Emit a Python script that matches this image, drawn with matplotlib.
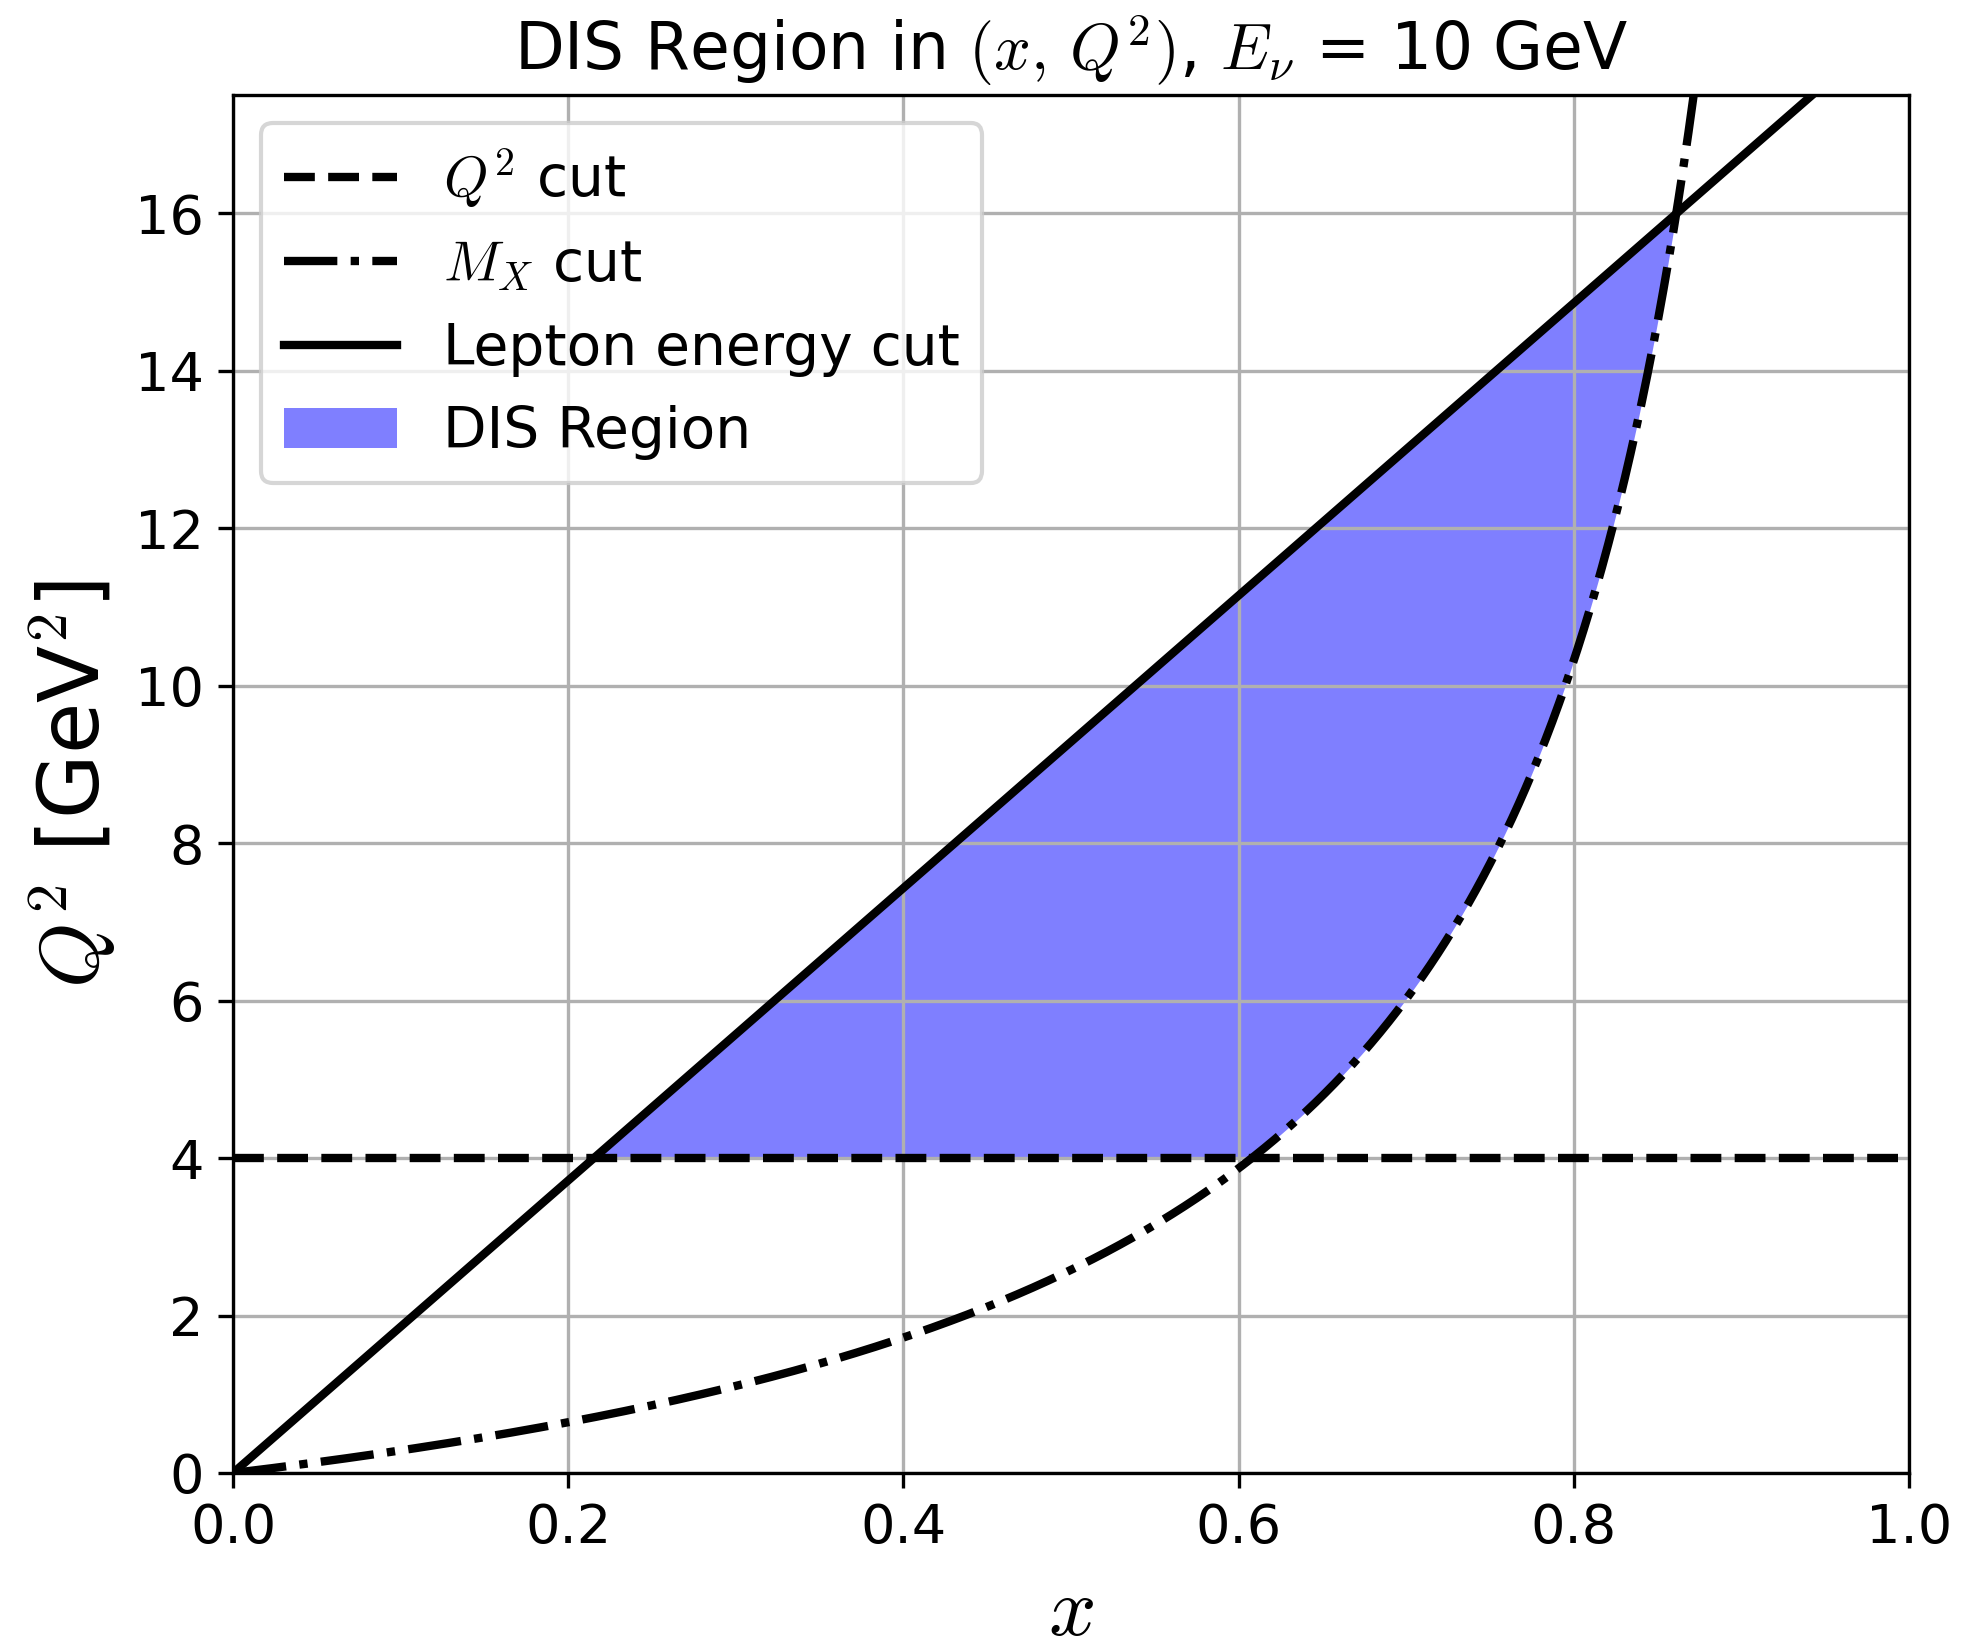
import numpy as np
import matplotlib
matplotlib.use("Agg")
import matplotlib.pyplot as plt

# kinematic cut parameters
E_nu = 10.0      # neutrino energy [GeV]
M_p = 0.938      # nucleon mass [GeV]
Q2_min = 4.0     # Q^2 cut [GeV^2]
W_min = 1.86     # hadronic invariant mass cut [GeV]
y_max = 0.99     # from the lepton energy cut

x_grid = np.linspace(1e-4, 0.999, 3000)

plt.rcParams["mathtext.fontset"] = "cm"

fig = plt.figure(figsize=(1963 / 300, 1640 / 300), dpi=300)
ax = fig.add_subplot(111)
fig.subplots_adjust(left=233 / 1963, right=1909 / 1963,
                    bottom=1 - 1473 / 1640, top=1 - 95 / 1640)

q2_lepton = 2 * M_p * E_nu * y_max * x_grid
q2_mx = (W_min**2 - M_p**2) * x_grid / (1 - x_grid)
lower = np.maximum(Q2_min, q2_mx)

ax.axhline(Q2_min, color="black", ls="--", lw=2, label=r"$Q^2$ cut")
ax.plot(x_grid, q2_mx, color="black", ls="-.", lw=2, label=r"$M_X$ cut")
ax.plot(x_grid, q2_lepton, color="black", ls="-", lw=2, label="Lepton energy cut")
ax.fill_between(x_grid, lower, q2_lepton, where=q2_lepton >= lower,
                color="blue", alpha=0.5, lw=0, label="DIS Region")

ax.set_xlim(0, 1)
ax.set_ylim(0, 17.5)
ax.set_yticks(np.arange(0, 17, 2))
ax.tick_params(labelsize=13)
ax.grid(True)
ax.set_xlabel(r"$x$", fontsize=20)
ax.set_ylabel(r"$Q^2$ [GeV$^2$]", fontsize=20)
ax.set_title(r"DIS Region in $(x,\, Q^2)$, $E_\nu$ = 10 GeV", fontsize=15.5)
ax.legend(loc="upper left", fontsize=13.6)

fig.savefig("out.png", dpi=300)
